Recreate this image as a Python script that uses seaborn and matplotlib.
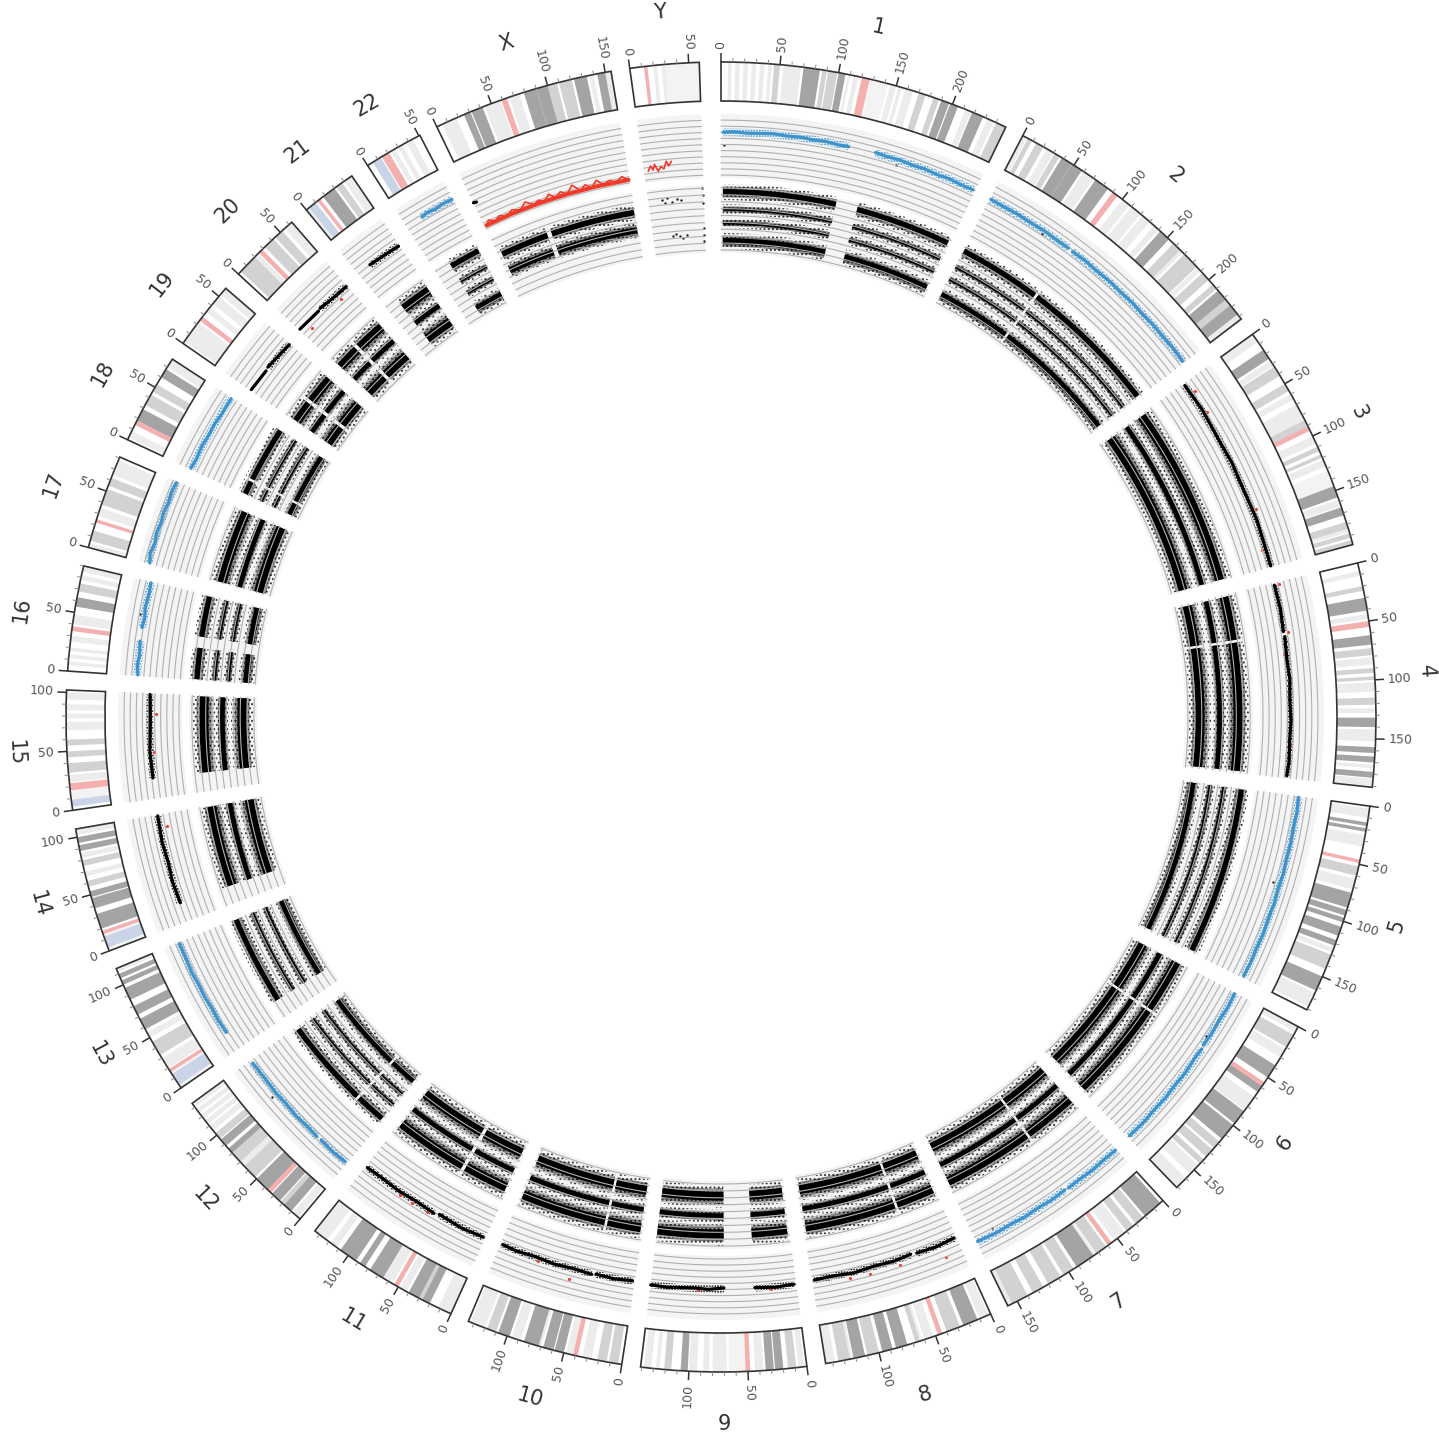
import numpy as np
import matplotlib
matplotlib.use('Agg')
import matplotlib.pyplot as plt
import seaborn as sns

sns.set_style('white')
plt.rcParams['hatch.linewidth'] = 0.9

# chromosome names and lengths in Mb
chroms = ['1', '2', '3', '4', '5', '6', '7', '8', '9', '10', '11', '12', '13', '14', '15',
          '16', '17', '18', '19', '20', '21', '22', 'X', 'Y']
sizes = [249, 243, 198, 191, 181, 171, 159, 146, 141, 135, 135, 134, 115, 107, 102,
         90, 81, 78, 59, 63, 48, 51, 155, 59]

# ideogram bands, (start, end) in Mb
pale_bands = {'1': [(128, 143)], '9': [(52, 66)], 'Y': [(30, 59)], '15': [(9, 17)], '13': [(0, 3), (14, 16)],
              '14': [(13, 15), (0, 3)], '3': [(132, 146)]}
light_bands = {
    '1': [(6, 9), (12, 16), (19, 23), (26, 30), (33, 37), (40, 43), (53, 68), (108, 110), (113, 117), (145, 150), (152, 155), (158, 165), (212, 217), (232, 238)],
    '2': [(0, 4), (23, 30), (60, 70), (100, 108), (110, 120), (122, 130), (135, 140), (162, 168), (186, 190), (238, 243)],
    '3': [(0, 8), (27, 32), (60, 65), (70, 85), (100, 107), (122, 128), (158, 164), (184, 187)],
    '4': [(7, 11), (44, 48), (81, 87), (102, 110), (124, 128), (142, 152), (172, 175), (184, 190)],
    '5': [(2, 10), (25, 35), (63, 72), (124, 128), (165, 178)],
    '6': [(0, 5), (22, 30), (70, 84), (145, 155), (160, 171)],
    '7': [(42, 50), (50, 53), (73, 75), (155, 159)],
    '8': [(2, 10), (52, 60), (62, 66), (100, 108), (123, 125), (138, 146)],
    '9': [(2, 7), (37, 44), (68, 80), (83, 88), (93, 100), (125, 128), (132, 138)],
    '10': [(26, 34), (42, 48), (70, 72), (88, 96), (120, 133)],
    '11': [(0, 12), (42, 48), (56, 68), (112, 118), (122, 134)],
    '12': [(2, 8), (65, 70), (105, 110), (112, 116), (118, 122), (124, 128), (130, 133)],
    '13': [(20, 30), (50, 55), (112, 115)],
    '14': [(21, 23), (66, 70), (82, 86), (102, 107)],
    '15': [(24, 30), (68, 75), (78, 82), (85, 90), (94, 100)],
    '16': [(5, 8), (11, 14), (17, 20), (25, 30), (40, 48), (78, 82), (85, 90)],
    '17': [(0, 4), (28, 35), (65, 78)],
    '18': [(2, 8), (70, 78)],
    '19': [(2, 22), (33, 38), (42, 50), (52, 59)],
    '20': [(55, 63), (20, 24)],
    '21': [(0, 3), (40, 44), (44, 48)],
    '22': [(23, 27), (30, 34), (38, 44)],
    'X': [(5, 18), (44, 50), (50, 58), (66, 75), (136, 140), (150, 155)],
    'Y': [(20, 23), (27, 30)],
}
mid_bands = {
    '1': [(45, 50), (86, 90), (91, 99), (170, 176), (183, 188), (240, 249)],
    '2': [(5, 9), (13, 20), (31, 36), (157, 165), (170, 185), (192, 200), (205, 210), (222, 228)],
    '3': [(33, 42), (50, 57), (85, 92), (110, 114), (117, 120), (178, 184), (188, 192), (194, 198)],
    '4': [(20, 24), (73, 79), (90, 94), (97, 100), (115, 121)],
    '5': [(52, 60), (130, 143)],
    '6': [(8, 20), (118, 125), (127, 135), (138, 143)],
    '7': [(22, 30), (33, 40), (62, 72), (95, 105), (108, 120), (125, 135), (140, 155)],
    '8': [(28, 40), (64, 68), (100, 110), (125, 135)],
    '9': [(9, 16), (115, 121)],
    '10': [(3, 11), (13, 21), (110, 118)],
    '11': [(27, 30), (85, 88)],
    '12': [(18, 22), (52, 65), (70, 80), (96, 102)],
    '13': [(33, 46)],
    '14': [(57, 62), (75, 80)],
    '15': [(32, 40), (45, 50), (55, 60)],
    '16': [(68, 75)],
    '17': [(6, 15), (38, 52), (55, 62)],
    '18': [(33, 43), (46, 53)],
    '19': [],
    '20': [(3, 20), (32, 42), (44, 52)],
    '21': [(32, 38)],
    '22': [],
    'X': [(100, 108), (110, 121)],
    'Y': [],
}
dark_bands = {
    '1': [(70, 84), (100, 106), (190, 197), (198, 205), (218, 228)],
    '2': [(38, 48), (48, 58), (72, 85), (142, 152), (212, 222), (228, 238)],
    '3': [(16, 25), (146, 156), (165, 172)],
    '4': [(30, 41), (62, 70), (132, 140), (157, 162), (165, 170), (178, 183)],
    '5': [(14, 17), (19, 22), (75, 88), (90, 95), (97, 101), (105, 113), (117, 122), (150, 163)],
    '6': [(38, 50), (58, 65), (85, 98), (100, 115)],
    '7': [(3, 20), (75, 92)],
    '8': [(12, 25), (75, 85), (88, 97), (112, 122)],
    '9': [(20, 27), (28, 35), (101, 107)],
    '10': [(50, 58), (59, 68), (72, 85), (98, 108)],
    '11': [(20, 27), (30, 40), (65, 78), (83, 88), (92, 108)],
    '12': [(10, 18), (23, 32), (36, 50), (80, 85), (88, 95)],
    '13': [(58, 68), (72, 80), (86, 97), (100, 104), (106, 110)],
    '14': [(20, 33), (38, 47), (48, 53), (88, 93), (95, 100)],
    '15': [],
    '16': [(55, 63)],
    '17': [],
    '18': [(18, 29), (60, 68)],
    '19': [],
    '20': [],
    '21': [(18, 30)],
    '22': [],
    'X': [(25, 31), (32, 42), (79, 90), (90, 100), (123, 134), (143, 150)],
    'Y': [],
}
cen_bands = {'1': (120, 127), '2': (90, 95), '3': (91, 95), '4': (50, 55), '5': (46, 49), '6': (55, 59),
             '7': (56, 60), '8': (44, 48), '9': (48, 52), '10': (38, 42), '11': (50, 54), '12': (33, 37),
             '13': (16, 19), '14': (15, 18), '15': (17, 23), '16': (34, 38), '17': (22, 25), '18': (14, 18),
             '19': (24, 28), '20': (25, 29), '21': (12, 15), '22': (14, 21), 'X': (59, 64), 'Y': (12, 15)}
acro_bands = {'13': (3, 14), '14': (3, 13), '15': (3, 9), '21': (3, 10), '22': (5, 13)}

# upper data track: (position list, value list) per continuous stretch
blue_chroms = ['1', '2', '5', '6', '7', '12', '13', '16', '17', '18', '22']
track_a = {
    '1': [([2, 12, 25, 38, 50, 62, 75, 88, 100, 112, 122], [7.0, 7.1, 6.95, 7.05, 7.15, 7.0, 7.1, 6.95, 7.05, 6.9, 6.95]),
          ([148, 160, 172, 185, 197, 210, 222, 235, 247], [7.1, 6.95, 7.05, 6.9, 7.0, 6.85, 7.0, 6.85, 6.95])],
    '2': [([1, 15, 30, 45, 60, 75, 88], [6.85, 6.75, 6.85, 6.75, 6.85, 6.75, 6.8]),
          ([93, 108, 122, 138, 152, 168, 182, 196, 212, 226, 241], [6.75, 6.85, 6.75, 6.85, 6.75, 6.85, 6.7, 6.8, 6.7, 6.8, 6.65])],
    '3': [([2, 30, 60, 90, 120, 150, 175, 197], [4.6, 4.75, 4.55, 4.7, 4.55, 4.75, 4.6, 4.6])],
    '4': [([2, 25, 48], [4.4, 4.55, 4.4]), ([53, 75, 95, 115, 135, 155, 175, 189], [4.5, 4.4, 4.6, 4.45, 4.6, 4.45, 4.55, 4.4])],
    '5': [([1, 15, 30, 45, 60, 75, 90, 105, 120, 135, 150, 165, 179], [6.7, 6.85, 6.7, 6.8, 6.7, 6.85, 6.7, 6.85, 6.75, 6.9, 6.75, 6.85, 6.75])],
    '6': [([1, 15, 30, 45, 58], [6.75, 6.9, 6.75, 6.85, 6.75]),
          ([62, 75, 90, 105, 120, 135, 150, 169], [6.9, 6.85, 7.05, 6.95, 7.1, 7.0, 7.15, 7.05])],
    '7': [([1, 15, 30, 45, 58], [7.2, 7.1, 7.2, 7.05, 7.1]),
          ([62, 78, 92, 108, 122, 138, 158], [7.0, 7.1, 6.95, 7.05, 6.9, 7.0, 6.85])],
    '8': [([2, 22, 41], [4.7, 4.9, 4.7]), ([47, 65, 85, 105, 125, 144], [4.55, 4.75, 4.6, 4.85, 4.6, 4.7])],
    '9': [([2, 20, 40], [4.9, 5.05, 4.85]), ([70, 85, 100, 125, 141], [4.75, 5.0, 4.85, 5.05, 4.95])],
    '10': [([2, 20, 38], [4.7, 4.9, 4.75]), ([42, 60, 80, 100, 118, 133], [4.95, 4.75, 4.9, 4.7, 4.9, 4.75])],
    '11': [([2, 25, 50], [4.9, 5.1, 4.85]), ([55, 75, 95, 115, 133], [5.15, 4.95, 5.1, 4.95, 5.05])],
    '12': [([2, 18, 33], [6.6, 6.7, 6.55]), ([38, 52, 66, 80, 95, 110, 131], [6.65, 6.55, 6.7, 6.55, 6.65, 6.55, 6.6])],
    '13': [([19, 32, 45, 58, 71, 84, 100, 114], [7.3, 7.4, 7.3, 7.45, 7.35, 7.5, 7.4, 7.4])],
    '14': [([19, 40, 60, 80, 106], [4.85, 5.05, 4.85, 5.05, 4.9])],
    '15': [([20, 45, 75, 101], [4.8, 4.95, 4.7, 4.8])],
    '16': [([1, 10, 20, 33], [7.0, 7.2, 7.0, 7.2]), ([46, 55, 66, 78, 89], [7.2, 7.0, 7.25, 7.05, 7.15])],
    '17': [([1, 10, 20, 30, 40, 50, 60, 70, 80], [8.15, 8.5, 8.2, 8.5, 8.3, 8.5, 8.3, 8.5, 8.35])],
    '18': [([1, 12, 24, 36, 48, 60, 77], [7.15, 7.0, 7.15, 7.0, 7.05, 6.9, 6.9])],
    '19': [([1, 24], [5.0, 4.85]), ([28, 45, 58], [5.0, 4.75, 4.6])],
    '20': [([1, 26], [5.0, 4.85]), ([29, 45, 62], [5.0, 4.75, 4.7])],
    '21': [([14, 30, 47], [5.0, 4.85, 4.7])],
    '22': [([17, 24, 32, 40, 50], [6.65, 6.85, 6.65, 6.85, 6.75])],
    'X': [([0, 3], [4.7, 4.6])],
}
# red stretches on the sex chromosomes
red_x_base_pos = [2, 30, 60, 90, 120, 154]
red_x_base_val = [0.45, 0.5, 0.5, 0.5, 0.5, 0.5]
red_x_pos = [2, 6, 12, 18, 25, 32, 40, 47, 55, 60, 66, 72, 78, 84, 90, 97, 104, 110, 116, 122, 128, 135, 141, 148, 154]
red_x_val = [0.3, 1.1, 0.5, 1.0, 0.4, 1.1, 0.5, 1.5, 0.5, 1.0, 0.5, 1.4, 0.5, 1.2, 0.5, 1.7, 0.5, 1.2, 0.5, 1.5, 0.5, 1.0, 0.5, 1.2, 0.5]
red_y_pos = [4, 7, 9, 11, 14, 17, 20, 23, 25, 28]
red_y_val = [1.4, 2.2, 1.5, 2.4, 1.2, 1.9, 1.5, 2.7, 1.9, 2.6]

# lower data track: stretches and band levels per chromosome
track_b_segs = {
    '1': [(2, 122), (145, 247)], '2': [(1, 89), (92, 241)], '3': [(2, 197)], '4': [(2, 49), (52, 189)],
    '5': [(1, 179)], '6': [(1, 58), (61, 169)], '7': [(1, 58), (61, 158)], '8': [(2, 43), (46, 144)],
    '9': [(2, 40), (70, 141)], '10': [(2, 38), (41, 133)], '11': [(2, 50), (54, 133)], '12': [(2, 34), (37, 131)],
    '13': [(19, 114)], '14': [(19, 106)], '15': [(20, 101)], '16': [(1, 34), (46, 89)], '17': [(1, 80)],
    '18': [(1, 15), (18, 77)], '19': [(1, 24), (28, 58)], '20': [(1, 26), (30, 62)], '21': [(14, 47)],
    '22': [(17, 50)], 'X': [(4, 57), (62, 154)],
}
four_levels = [8.4, 5.9, 3.9, 1.3]
three_levels = [7.25, 4.6, 1.75]
x_levels = [6.5, 3.9]
four_band_chroms = ['1', '2', '5', '12', '13', '16', '18', '22']

# stray points
red_chrom = ['3', '3', '3', '3', '4', '4', '4', '4', '8', '8', '8', '8', '9', '9', '10', '10', '11', '11', '11', '14', '15', '15', '20', '20']
red_pos = [12, 35, 140, 180, 2, 49, 70, 160, 16, 60, 90, 110, 25, 95, 62, 95, 62, 78, 92, 95, 45, 82, 10, 50]
red_val = [5.5, 5.3, 5.2, 4.0, 5.2, 5.2, 4.0, 4.6, 7.0, 5.6, 5.6, 5.5, 5.3, 5.2, 6.6, 5.3, 5.5, 5.6, 5.6, 3.7, 4.2, 3.7, 3.6, 3.8]
black_a_chrom = ['1', '1', '2', '5', '6', '7', '12', '16']
black_a_pos = [3, 170, 60, 85, 50, 140, 95, 58]
black_a_val = [4.9, 6.0, 6.2, 5.6, 6.3, 6.0, 7.6, 7.9]
y_b_pos = [14, 17, 20, 25, 30, 35, 22, 26, 30, 34, 38, 58, 58, 58, 58, 58, 58]
y_b_val = [7.7, 7.2, 7.9, 7.3, 7.7, 7.4, 2.4, 2.6, 2.3, 2.0, 2.4, 9.0, 8.0, 6.8, 3.2, 2.2, 1.4]

# layout in pixels of the figure
ideo_in, ideo_out = 616, 655
a_in, a_unit = 542, 6.1
b_in, b_unit = 467, 6.9
mb_deg = 0.1035
gap_deg = 1.66

starts = {}
pos = 0.0
for c, s in zip(chroms, sizes):
    starts[c] = pos
    pos += s * mb_deg + gap_deg


def theta(c, mb):
    return np.radians(starts[c] + np.asarray(mb, dtype=float) * mb_deg)


def arc_bar(ax, c, lo, hi, r0, r1, **kw):
    ax.bar(theta(c, lo), r1 - r0, width=np.radians((hi - lo) * mb_deg), bottom=r0, align='edge', **kw)


fig = plt.figure(figsize=(14.39, 14.39), dpi=100)
R = 716
ax = fig.add_axes([(721 - R) / 1439, (1439 - 717 - R) / 1439, 2 * R / 1439, 2 * R / 1439], projection='polar')
ax.set_theta_zero_location('N')
ax.set_theta_direction(-1)

for c, size in zip(chroms, sizes):
    # ideogram
    for lo, hi in pale_bands.get(c, []):
        arc_bar(ax, c, lo, hi, ideo_in, ideo_out, color='#f3f3f3', lw=0)
    for lo, hi in light_bands[c]:
        arc_bar(ax, c, lo, hi, ideo_in, ideo_out, color='#ececec', lw=0)
    for lo, hi in mid_bands[c]:
        arc_bar(ax, c, lo, hi, ideo_in, ideo_out, color='#d2d2d2', lw=0)
    for lo, hi in dark_bands[c]:
        arc_bar(ax, c, lo, hi, ideo_in, ideo_out, color='#a4a4a4', lw=0)
    lo, hi = cen_bands[c]
    arc_bar(ax, c, lo, hi, ideo_in, ideo_out, color='#f3b0ae', lw=0)
    if c in acro_bands:
        lo, hi = acro_bands[c]
        arc_bar(ax, c, lo, hi, ideo_in, ideo_out, color='#c9d5e6', lw=0)
    arc_bar(ax, c, 0, size, ideo_in, ideo_out, facecolor='none', edgecolor='#333333', lw=1.2)

    # ticks and labels
    for mb in range(0, size + 1, 10):
        major = mb % 50 == 0
        ax.vlines(theta(c, mb), ideo_out, ideo_out + (9 if major else 4),
                  color='#333333' if major else '#888888', lw=1.1 if major else 0.7)
        if major:
            deg = np.degrees(theta(c, mb))
            right = deg < 180
            rot = 90 - deg if right else 270 - deg
            ax.text(theta(c, mb), ideo_out + 13, str(mb), rotation=rot, rotation_mode='anchor',
                    ha='left' if right else 'right', va='center', fontsize=9, color='#555555')

    # chromosome name
    mid = starts[c] + size * mb_deg / 2
    rot = -mid if (mid < 90 or mid > 270) else 180 - mid
    ax.text(np.radians(mid), 707, c, rotation=rot, rotation_mode='anchor', ha='center', va='center',
            fontsize=15, color='#333333')

    # track backgrounds and grid
    t0, t1 = theta(c, 0), theta(c, size)
    arc_bar(ax, c, 0, size, a_in - 3, a_in + 61, color='#f4f4f4', lw=0)
    arc_bar(ax, c, 0, size, b_in - 3, b_in + 65, color='#f4f4f4', lw=0)
    grid_t = np.linspace(t0, t1, 40)
    for i in range(10):
        ax.plot(grid_t, np.full(40, a_in + i * a_unit), color='#b0b0b0', lw=0.8)
        ax.plot(grid_t, np.full(40, b_in + i * b_unit), color='#b0b0b0', lw=0.8)

# upper track, line with a stippled fringe
for c, segs in track_a.items():
    blue = c in blue_chroms
    col = '#3f93cc' if blue else 'black'
    for p, v in segs:
        r_mean = a_in + np.mean(v) * a_unit
        fringe = 4 if blue else 3.5
        if len(p) > 2:
            arc_bar(ax, c, p[0], p[-1], r_mean - fringe, r_mean + fringe, facecolor='none', edgecolor=col,
                    hatch='......', lw=0)
        sns.lineplot(x=theta(c, p), y=a_in + np.array(v) * a_unit, ax=ax, sort=False, estimator=None,
                     color=col, lw=2.3 if blue else 2.3, legend=False)

sns.lineplot(x=theta('X', red_x_base_pos), y=a_in + np.array(red_x_base_val) * a_unit, ax=ax, sort=False,
             estimator=None, color='#f03b2a', lw=3, legend=False)
sns.lineplot(x=theta('X', red_x_pos), y=a_in + np.array(red_x_val) * a_unit, ax=ax, sort=False, estimator=None,
             color='#f03b2a', lw=1.2, legend=False)
sns.lineplot(x=theta('Y', red_y_pos), y=a_in + np.array(red_y_val) * a_unit, ax=ax, sort=False, estimator=None,
             color='#f03b2a', lw=1.2, legend=False)

# lower track, black core inside dense and sparse stipple
for c, segs in track_b_segs.items():
    levels = x_levels if c == 'X' else four_levels if c in four_band_chroms else three_levels
    for i, lev in enumerate(levels):
        thick = len(levels) == 2 or i == 0 or i == len(levels) - 1
        core, dense, sparse = (6, 11, 16) if thick else (3, 6, 10)
        if len(levels) == 3 and thick:
            core, dense, sparse = (9, 15, 22)
        elif len(levels) == 3:
            core, dense, sparse = (5, 9, 13)
        r = b_in + lev * b_unit
        for lo, hi in segs:
            arc_bar(ax, c, lo, hi, r - sparse / 2, r + sparse / 2, facecolor='none', edgecolor='#333333',
                    hatch='....', lw=0)
            arc_bar(ax, c, lo, hi, r - dense / 2, r + dense / 2, facecolor='none', edgecolor='black',
                    hatch='.........', lw=0)
            arc_bar(ax, c, lo, hi, r - core / 2, r + core / 2, color='black', lw=0)

# stray points
sns.scatterplot(x=[theta(c, p) for c, p in zip(red_chrom, red_pos)],
                y=a_in + np.array(red_val) * a_unit, ax=ax, color='#f03b2a', s=5, linewidth=0, legend=False)
sns.scatterplot(x=[theta(c, p) for c, p in zip(black_a_chrom, black_a_pos)],
                y=a_in + np.array(black_a_val) * a_unit, ax=ax, color='#222222', s=3, linewidth=0, legend=False)
sns.scatterplot(x=theta('Y', y_b_pos), y=b_in + np.array(y_b_val) * b_unit, ax=ax, color='#222222', s=3,
                linewidth=0, legend=False)

ax.set_ylim(0, R)
ax.set_xlim(0, 2 * np.pi)
ax.axis('off')
fig.savefig('out.png', dpi=100)
